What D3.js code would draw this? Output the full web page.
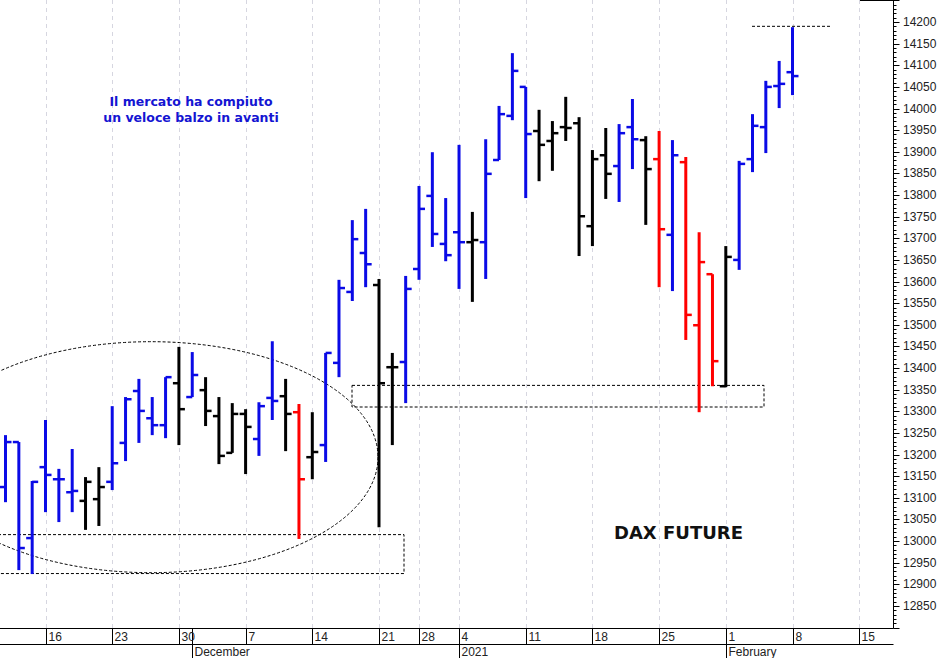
<!DOCTYPE html>
<html><head><meta charset="utf-8">
<script src="https://cdn.jsdelivr.net/npm/d3@7"></script>
<style>html,body{margin:0;padding:0;background:#fff;}svg{display:block;}</style>
</head><body><svg id="c" width="941" height="658"></svg>
<script>
// ---- DATA ----
const tradingDays = ["2020-11-11","2020-11-12","2020-11-13","2020-11-16","2020-11-17","2020-11-18","2020-11-19","2020-11-20",
"2020-11-23","2020-11-24","2020-11-25","2020-11-26","2020-11-27","2020-11-30","2020-12-01","2020-12-02","2020-12-03","2020-12-04",
"2020-12-07","2020-12-08","2020-12-09","2020-12-10","2020-12-11","2020-12-14","2020-12-15","2020-12-16","2020-12-17","2020-12-18",
"2020-12-21","2020-12-22","2020-12-23","2020-12-28","2020-12-29","2020-12-30","2021-01-04","2021-01-05","2021-01-06","2021-01-07",
"2021-01-08","2021-01-11","2021-01-12","2021-01-13","2021-01-14","2021-01-15","2021-01-18","2021-01-19","2021-01-20","2021-01-21",
"2021-01-22","2021-01-25","2021-01-26","2021-01-27","2021-01-28","2021-01-29","2021-02-01","2021-02-02","2021-02-03","2021-02-04",
"2021-02-05","2021-02-08","2021-02-09","2021-02-10","2021-02-11","2021-02-12","2021-02-15","2021-02-16","2021-02-17"];
const barCount = 60;
const open  = [13125,13229,13007,13171,13143,13113,13093,13097,13137,13227,13347,13284,13268,13365,13333,13349,13289,13204,13294,13236,
13331,13335,13298,13194,13222,13412,13576,13666,13592,13402,13414,13629,13798,13687,13714,13691,13691,13881,13983,14050,
13948,13925,13957,13966,13728,13892,13867,13957,13927,13883,13708,13876,13499,13617,13358,13650,13883,13957,14052,14084];
const high  = [13245,13229,13139,13280,13167,13213,13148,13171,13312,13333,13375,13333,13379,13449,13437,13379,13333,13319,13305,13321,
13462,13375,13317,13298,13435,13604,13742,13768,13606,13435,13613,13821,13899,13793,13916,13761,13929,14006,14128,14050,
13997,13971,14027,13980,13904,13955,13964,14022,13936,13948,13927,13888,13714,13617,13682,13879,13987,14064,14110,14188];
const low   = [13090,12933,12924,13067,13044,13067,13026,13035,13118,13185,13227,13245,13238,13222,13333,13266,13178,13204,13155,13197,
13280,13208,13005,13143,13183,13379,13555,13587,13032,13222,13319,13604,13680,13647,13583,13553,13606,13881,13973,13793,
13832,13856,13925,13659,13682,13791,13784,13860,13731,13587,13578,13465,13298,13358,13356,13627,13853,13897,14001,14031];
const close = [13229,12984,13137,13153,13143,13116,13137,13125,13180,13328,13301,13268,13379,13305,13384,13301,13197,13294,13264,13312,
13324,13294,13143,13206,13435,13585,13698,13640,13365,13402,13583,13768,13710,13661,13691,13696,13849,13987,14087,13941,
13916,13943,13955,13751,13883,13849,13943,13929,13860,13721,13892,13523,13645,13416,13657,13872,13960,14050,14057,14075];
// signal: B = blue, K = black, R = red
const signal = ["B","B","B","B","B","B","K","K","B","B","B","B","B","K","B","K","K","K","K","B",
"B","K","R","K","B","B","B","B","K","K","B","B","B","B","B","K","B","B","B","B",
"K","K","K","K","K","K","B","B","K","R","B","R","R","R","K","B","B","B","B","B"];
const weekTickDates  = ["2020-11-16","2020-11-23","2020-11-30","2020-12-07","2020-12-14","2020-12-21","2020-12-28","2021-01-04","2021-01-11","2021-01-18","2021-01-25","2021-02-01","2021-02-08","2021-02-15"];
const weekTickLabels = ["16","23","30","7","14","21","28","4","11","18","25","1","8","15"];
const monthDates  = ["2020-12-01","2021-01-04","2021-02-01"];
const monthLabels = ["December","2021","February"];
const yTickLabels = [12850,12900,12950,13000,13050,13100,13150,13200,13250,13300,13350,13400,13450,13500,13550,13600,13650,13700,13750,13800,13850,13900,13950,14000,14050,14100,14150,14200];
const noteLines = ["Il mercato ha compiuto","un veloce balzo in avanti"];
const titleText = "DAX FUTURE";
const supportBox1 = {hi:13015, lo:12925};
const supportBox2 = {hi:13360, lo:13310};
const consolidation = {mid:13194, half:267};
const resistance = 14190;

// ---- LAYOUT ----
const svg = d3.select("#c");
const plotRight = 893.5, plotBottom = 628.5;
const colors = {B:"#0a0ae6", K:"#000000", R:"#ff0000"};
const idx = d => tradingDays.indexOf(d);
const x = d3.scaleLinear().domain([0, 59]).range([5.5, 792.5]);
const y = d3.scaleLinear().domain([12850, 14200]).range([606, 22]);

const gGrid = svg.append("g");
weekTickDates.forEach(d => {
  const xx = Math.round(x(idx(d))) + 0.5;
  gGrid.append("line").attr("x1", xx).attr("x2", xx).attr("y1", 0).attr("y2", plotBottom)
    .attr("stroke", "#d6d6e0").attr("stroke-dasharray", "4,4");
});

// annotation shapes
const ann = svg.append("g").attr("fill", "none").attr("stroke", "#000").attr("stroke-width", 1).attr("stroke-dasharray", "3,2");
ann.append("ellipse").attr("cx", 151).attr("cy", y(consolidation.mid))
  .attr("rx", 227).attr("ry", y(consolidation.mid - consolidation.half) - y(consolidation.mid));
ann.append("rect").attr("x", -2).attr("y", y(supportBox1.hi)).attr("width", 406).attr("height", y(supportBox1.lo) - y(supportBox1.hi));
ann.append("rect").attr("x", 352).attr("y", y(supportBox2.hi)).attr("width", 412).attr("height", y(supportBox2.lo) - y(supportBox2.hi));
ann.append("line").attr("x1", 752).attr("x2", 830).attr("y1", y(resistance)).attr("y2", y(resistance));

// bars
const gBars = svg.append("g");
for (let i = 0; i < barCount; i++) {
  const xx = x(i);
  const c = colors[signal[i]];
  const g = gBars.append("g").attr("stroke", c).attr("stroke-width", 3).attr("fill", "none");
  g.append("line").attr("x1", xx).attr("x2", xx).attr("y1", y(high[i])).attr("y2", y(low[i]));
  g.append("line").attr("x1", xx - 6).attr("x2", xx).attr("y1", y(open[i])).attr("y2", y(open[i])).attr("stroke-width", 2.5);
  g.append("line").attr("x1", xx).attr("x2", xx + 6).attr("y1", y(close[i])).attr("y2", y(close[i])).attr("stroke-width", 2.5);
}

// texts
svg.append("g").selectAll("text").data(noteLines).join("text")
  .attr("x", 191).attr("y", (d, i) => 106 + i * 16).attr("text-anchor", "middle")
  .attr("font-family", "DejaVu Sans, Verdana, sans-serif").attr("font-weight", "bold").attr("font-size", 12.5)
  .attr("fill", "#1414d2").text(d => d);
svg.append("text").attr("x", 614).attr("y", 539).attr("font-family", "DejaVu Sans, Verdana, sans-serif")
  .attr("font-weight", "bold").attr("font-size", 18).attr("fill", "#111").text(titleText);

// right axis
svg.append("rect").attr("x", plotRight).attr("y", 0).attr("width", 941 - plotRight).attr("height", 658).attr("fill", "#fff");
const yAxis = svg.append("g");
yAxis.append("line").attr("x1", plotRight).attr("x2", plotRight).attr("y1", 0).attr("y2", plotBottom).attr("stroke", "#000");
d3.range(12800, 14260, 10).forEach(v => {
  const yy = Math.round(y(v)) + 0.5;
  if (yy < 0 || yy > plotBottom) return;
  const major = v % 50 === 0;
  yAxis.append("line").attr("x1", plotRight).attr("x2", plotRight + (major ? 6 : 3)).attr("y1", yy).attr("y2", yy).attr("stroke", "#000");
});
yAxis.selectAll("text").data(yTickLabels).join("text")
  .attr("x", 903).attr("y", d => y(d) + 4).attr("font-family", "Liberation Sans, Arial, sans-serif")
  .attr("font-size", 12).attr("fill", "#222").text(d => d);
svg.append("line").attr("x1", 860).attr("x2", plotRight).attr("y1", 0.5).attr("y2", 0.5).attr("stroke", "#000");

// bottom axis
const xAxis = svg.append("g").attr("stroke", "#000");
xAxis.append("line").attr("x1", 0).attr("x2", plotRight).attr("y1", plotBottom).attr("y2", plotBottom);
xAxis.append("line").attr("x1", 0).attr("x2", plotRight).attr("y1", 644.5).attr("y2", 644.5);
weekTickDates.forEach(d => {
  const xx = Math.round(x(idx(d))) + 0.5;
  xAxis.append("line").attr("x1", xx).attr("x2", xx).attr("y1", plotBottom).attr("y2", 644.5);
});
monthDates.forEach(d => {
  const xx = Math.round(x(idx(d))) + 0.5;
  xAxis.append("line").attr("x1", xx).attr("x2", xx).attr("y1", plotBottom).attr("y2", 658);
});
svg.append("g").selectAll("text").data(weekTickDates).join("text")
  .attr("x", d => Math.round(x(idx(d))) + 2.5).attr("y", 641)
  .attr("font-family", "Liberation Sans, Arial, sans-serif").attr("font-size", 12).attr("fill", "#222")
  .text((d, i) => weekTickLabels[i]);
svg.append("g").selectAll("text").data(monthDates).join("text")
  .attr("x", d => Math.round(x(idx(d))) + 2.5).attr("y", 656)
  .attr("font-family", "Liberation Sans, Arial, sans-serif").attr("font-size", 12).attr("fill", "#222")
  .text((d, i) => monthLabels[i]);
</script></body></html>
